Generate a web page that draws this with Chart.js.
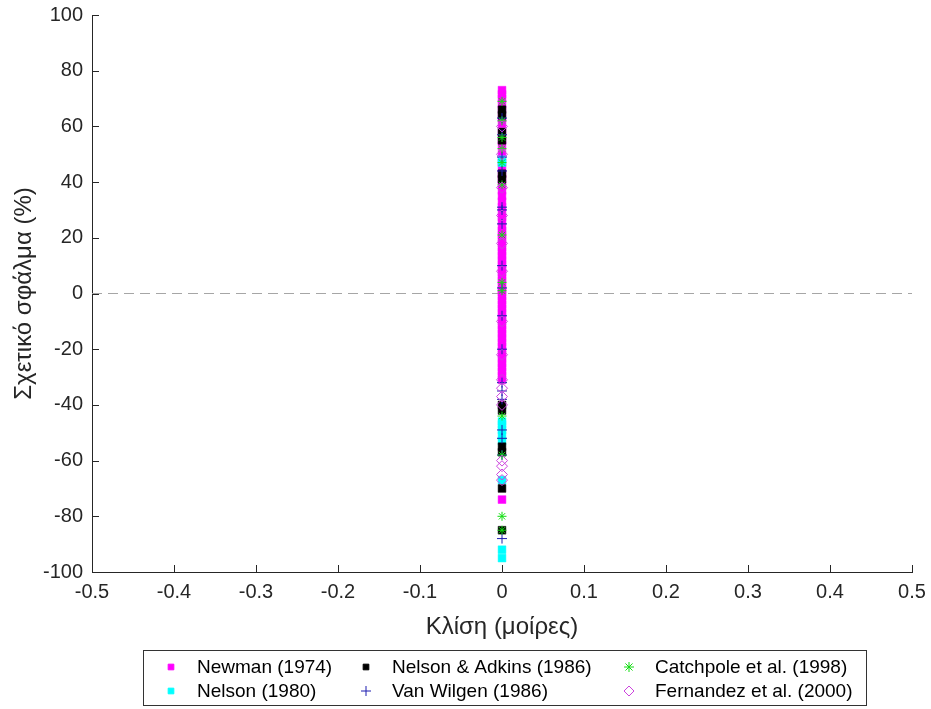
<!DOCTYPE html>
<html>
<head>
<meta charset="utf-8">
<script src="https://cdn.jsdelivr.net/npm/chart.js@4.4.1/dist/chart.umd.min.js"></script>
<style>
  html, body { margin: 0; padding: 0; background: #fff; }
  #wrap { width: 931px; height: 709px; }
</style>
</head>
<body>
<div id="wrap"><canvas id="grafico-error" width="931" height="709"></canvas></div>
<script>
// relative error (%) of each model, all measured at zero slope
const klisi = 0;

const newman = [73, 71.5, 70, 68, 66, 63, 61, 58, 55, 53, 50, 47, 45, 43, 41, 39, 37, 35, 33, 31,
    29, 27.5, 26, 24, 22.5, 21, 19.5, 18, 16.5, 15, 13.5, 12, 10.5, 9, 7.5, 6, 4.5, 3, 1.5, 0.5,
    -1, -2.5, -4, -5.5, -7, -8.5, -10, -11.5, -13, -14.5, -16, -17.5, -19, -20.5, -22, -23.5,
    -25, -26.5, -28, -29.5, -31, -74];
const nelson = [48, 47, -46, -47, -49, -51, -53, -67, -92, -95];
const nelsonAdkins = [66, 64, 58, 55, 43, 41, -40, -42, -55, -57, -70, -85];
const vanWilgen = [63, 57, 49, 44, 31, 30, 25, 10, 2, -8, -20, -32, -35, -38, -49, -52, -58, -88];
const catchpole = [69, 62, 56, 52, 47, 39, 21, 4, 1, -44, -58, -80, -85];
const fernandez = [60, 50, 38, 28, 18, 8, -10, -22, -31, -34, -37, -40, -60, -62, -65, -67];

const xTicks = [-0.5, 0.5, 0.1];
const yTicks = [-100, 100, 20];

const fuente = "'Liberation Sans', Arial, sans-serif";
const grisEje = '#262626';

function puntos(valores) {
    return valores.map(v => ({ x: klisi, y: v }));
}

function serie(label, valores, estilo, color, radio, relleno, orden) {
    return {
        label: label,
        data: puntos(valores),
        pointStyle: estilo,
        pointRadius: radio,
        pointHoverRadius: radio,
        pointBackgroundColor: relleno ? color : 'rgba(0,0,0,0)',
        pointBorderColor: color,
        pointBorderWidth: relleno ? 0.5 : 1,
        showLine: false,
        order: orden,
        legendRadius: estilo === 'rect' ? 4 : 5
    };
}

const datasets = [
    {
        label: 'cero',
        data: [{ x: xTicks[0], y: 0 }, { x: xTicks[1], y: 0 }],
        showLine: true,
        borderColor: '#a6a6a6',
        borderWidth: 1,
        borderDash: [10, 6],
        pointRadius: 0,
        order: 20,
        enLeyenda: false
    },
    serie('Newman (1974)', newman, 'rect', '#ff00ff', 5.5, true, 6),
    serie('Nelson (1980)', nelson, 'rect', '#00ffff', 5.5, true, 5),
    serie('Nelson & Adkins (1986)', nelsonAdkins, 'rect', '#000000', 5.5, true, 4),
    serie('Van Wilgen (1986)', vanWilgen, 'cross', '#1c1cb0', 5, false, 3),
    serie('Catchpole et al. (1998)', catchpole, 'star', '#11dd11', 4.5, false, 2),
    serie('Fernandez et al. (2000)', fernandez, 'rectRot', '#cc44dd', 5.5, false, 1)
];

// inward tick marks and the boxed legend (3 columns, 2 rows)
const extras = {
    id: 'extras',
    afterDraw(chart) {
        const ctx = chart.ctx;
        const a = chart.chartArea;
        const x = chart.scales.x;
        const y = chart.scales.y;
        ctx.save();
        ctx.strokeStyle = grisEje;
        ctx.lineWidth = 1;
        ctx.beginPath();
        y.ticks.forEach(t => {
            const py = Math.round(y.getPixelForValue(t.value)) + 0.5;
            ctx.moveTo(a.left, py);
            ctx.lineTo(a.left + 7, py);
        });
        x.ticks.forEach(t => {
            const px = Math.round(x.getPixelForValue(t.value)) + 0.5;
            ctx.moveTo(px, a.bottom);
            ctx.lineTo(px, a.bottom - 7);
        });
        ctx.stroke();

        // legend box
        const caja = { left: 143.5, top: 650.5, right: 866.5, bottom: 705.5 };
        ctx.fillStyle = '#ffffff';
        ctx.fillRect(caja.left, caja.top, caja.right - caja.left, caja.bottom - caja.top);
        ctx.strokeStyle = '#333333';
        ctx.strokeRect(caja.left, caja.top, caja.right - caja.left, caja.bottom - caja.top);

        const columnas = [171, 366, 629];
        const filas = [667, 691];
        const series = chart.data.datasets.filter(d => d.enLeyenda !== false);
        ctx.font = '19px ' + fuente;
        ctx.textBaseline = 'middle';
        ctx.textAlign = 'left';
        series.forEach((d, i) => {
            const cx = columnas[Math.floor(i / 2)];
            const cy = filas[i % 2];
            ctx.fillStyle = d.pointBackgroundColor;
            ctx.strokeStyle = d.pointBorderColor;
            ctx.lineWidth = 1;
            Chart.helpers.drawPoint(ctx, {
                pointStyle: d.pointStyle,
                radius: d.legendRadius,
                rotation: 0,
                borderWidth: d.pointBorderWidth
            }, cx, cy);
            ctx.fillStyle = '#000000';
            ctx.fillText(d.label, cx + 26, cy + 1);
        });
        ctx.restore();
    }
};

const ctxGrafico = document.getElementById('grafico-error');
const graficoError = new Chart(ctxGrafico, {
    type: 'scatter',
    data: { datasets: datasets },
    plugins: [extras],
    options: {
        responsive: false,
        animation: false,
        events: [],
        layout: { padding: { left: 0, right: 19, top: 15, bottom: 67 } },
        plugins: {
            legend: { display: false },
            tooltip: { enabled: false }
        },
        scales: {
            x: {
                type: 'linear',
                min: xTicks[0],
                max: xTicks[1],
                ticks: {
                    stepSize: xTicks[2],
                    padding: 8,
                    color: grisEje,
                    font: { family: fuente, size: 20 },
                    callback: v => String(+v.toFixed(1))
                },
                grid: { display: false, drawTicks: false },
                border: { display: true, color: grisEje, width: 1 },
                title: {
                    display: true,
                    text: 'Κλίση (μοίρες)',
                    color: grisEje,
                    font: { family: fuente, size: 24 },
                    padding: { top: 0, bottom: 0 }
                },
                afterFit: s => {
                    s.height = 70;
                    s.paddingLeft = 0;
                    s.paddingRight = 0;
                }
            },
            y: {
                type: 'linear',
                min: yTicks[0],
                max: yTicks[1],
                ticks: {
                    stepSize: yTicks[2],
                    padding: 9,
                    color: grisEje,
                    font: { family: fuente, size: 20 }
                },
                grid: { display: false, drawTicks: false },
                border: { display: true, color: grisEje, width: 1 },
                title: {
                    display: true,
                    text: 'Σχετικό σφάλμα (%)',
                    color: grisEje,
                    font: { family: fuente, size: 24 },
                    padding: { top: 10, bottom: 0 }
                },
                afterFit: s => {
                    s.width = 92;
                    s.paddingTop = 0;
                    s.paddingBottom = 0;
                }
            }
        }
    }
});
</script>
</body>
</html>
